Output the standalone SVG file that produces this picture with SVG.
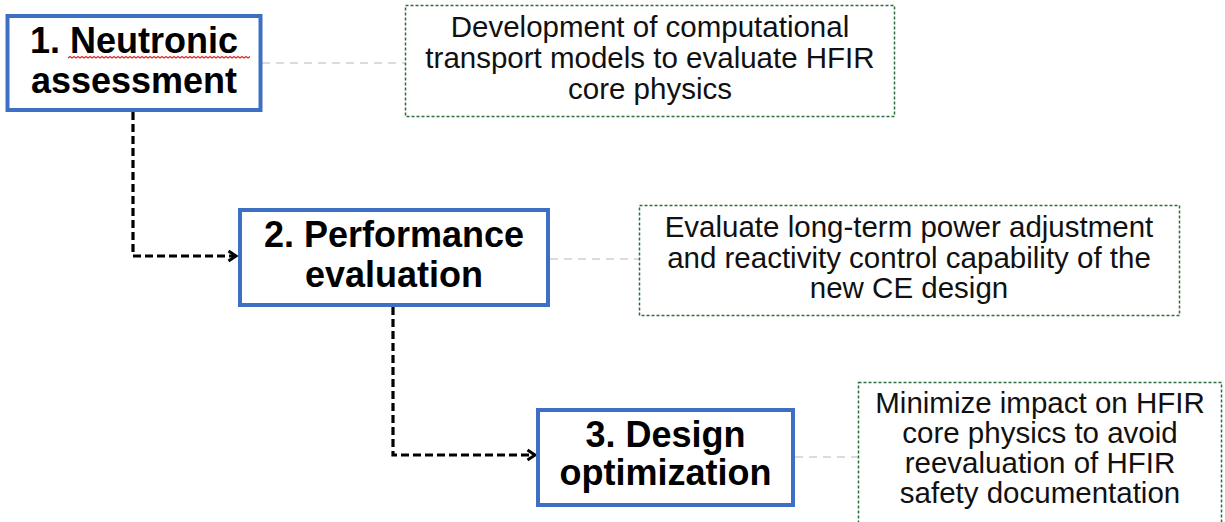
<svg xmlns="http://www.w3.org/2000/svg" width="1225" height="522" viewBox="0 0 1225 522">
  <defs>
    <style>
      .step { fill: #ffffff; stroke: #3d70c2; stroke-width: 4; }
      .step-text { font-family: "Liberation Sans", Arial, sans-serif; font-weight: bold; font-size: 36px; fill: #000000; text-anchor: middle; }
      .note { fill: #ffffff; stroke: #2a6e3a; stroke-width: 1.5; stroke-dasharray: 3 2; }
      .note-text { font-family: "Liberation Sans", Arial, sans-serif; font-size: 29.5px; fill: #111111; text-anchor: middle; }
      .flow { fill: none; stroke: #000000; stroke-width: 3.2; stroke-dasharray: 8 4; }
      .link { fill: none; stroke: #cfcfcf; stroke-width: 1.5; stroke-dasharray: 8 6; }
      .squiggle { fill: none; stroke: #e02828; stroke-width: 1.3; }
    </style>
    <marker id="chevron" markerWidth="14" markerHeight="14" refX="10" refY="7" orient="auto" markerUnits="userSpaceOnUse">
      <path d="M2.5,2 L10,7 L2.5,12" fill="none" stroke="#000000" stroke-width="3"/>
    </marker>
  </defs>

  <rect width="1225" height="522" fill="#ffffff"/>

  <!-- connectors -->
  <g id="connectors">
    <path class="link" d="M262,63 L405,63"/>
    <path class="link" d="M550,259 L639,259"/>
    <path class="link" d="M795,457 L858,457"/>
    <path class="flow" d="M133,112 L133,256 L236,256" marker-end="url(#chevron)"/>
    <path class="flow" d="M393,307 L393,455 L535,455" marker-end="url(#chevron)"/>
  </g>

  <!-- step 1 -->
  <g id="step1">
    <rect class="step" x="7.5" y="16" width="253" height="94"/>
    <text class="step-text" x="134" y="53">1. Neutronic</text>
    <text class="step-text" x="134" y="93">assessment</text>
    <path class="squiggle" d="M68,58 l2,-1.5 l2,1.5 l2,-1.5 l2,1.5 l2,-1.5 l2,1.5 l2,-1.5 l2,1.5 l2,-1.5 l2,1.5 l2,-1.5 l2,1.5 l2,-1.5 l2,1.5 l2,-1.5 l2,1.5 l2,-1.5 l2,1.5 l2,-1.5 l2,1.5 l2,-1.5 l2,1.5 l2,-1.5 l2,1.5 l2,-1.5 l2,1.5 l2,-1.5 l2,1.5 l2,-1.5 l2,1.5 l2,-1.5 l2,1.5 l2,-1.5 l2,1.5 l2,-1.5 l2,1.5 l2,-1.5 l2,1.5 l2,-1.5 l2,1.5 l2,-1.5 l2,1.5 l2,-1.5 l2,1.5 l2,-1.5 l2,1.5 l2,-1.5 l2,1.5 l2,-1.5 l2,1.5 l2,-1.5 l2,1.5 l2,-1.5 l2,1.5 l2,-1.5 l2,1.5 l2,-1.5 l2,1.5 l2,-1.5 l2,1.5 l2,-1.5 l2,1.5 l2,-1.5 l2,1.5 l2,-1.5 l2,1.5 l2,-1.5 l2,1.5 l2,-1.5 l2,1.5 l2,-1.5 l2,1.5 l2,-1.5 l2,1.5 l2,-1.5 l2,1.5 l2,-1.5 l2,1.5 l2,-1.5 l2,1.5 l2,-1.5 l2,1.5 l2,-1.5 l2,1.5 l2,-1.5 l2,1.5 l2,-1.5 l2,1.5 l2,-1.5 l2,1.5 l2,-1.5"/>
  </g>

  <!-- step 2 -->
  <g id="step2">
    <rect class="step" x="240" y="210" width="308" height="95"/>
    <text class="step-text" x="394" y="247">2. Performance</text>
    <text class="step-text" x="394" y="287">evaluation</text>
  </g>

  <!-- step 3 -->
  <g id="step3">
    <rect class="step" x="538" y="410" width="255" height="95"/>
    <text class="step-text" x="665.5" y="447">3. Design</text>
    <text class="step-text" x="665.5" y="485">optimization</text>
  </g>

  <!-- note 1 -->
  <g id="note1">
    <rect class="note" x="405.5" y="5.5" width="489" height="111"/>
    <text class="note-text" x="650" y="37">Development of computational</text>
    <text class="note-text" x="650" y="68">transport models to evaluate HFIR</text>
    <text class="note-text" x="650" y="99">core physics</text>
  </g>

  <!-- note 2 -->
  <g id="note2">
    <rect class="note" x="639.5" y="205.5" width="540" height="110"/>
    <text class="note-text" x="909" y="237">Evaluate long-term power adjustment</text>
    <text class="note-text" x="909" y="268">and reactivity control capability of the</text>
    <text class="note-text" x="909" y="298">new CE design</text>
  </g>

  <!-- note 3 -->
  <g id="note3">
    <rect class="note" x="858.5" y="382.5" width="363" height="150"/>
    <text class="note-text" x="1040" y="413">Minimize impact on HFIR</text>
    <text class="note-text" x="1040" y="443">core physics to avoid</text>
    <text class="note-text" x="1040" y="473">reevaluation of HFIR</text>
    <text class="note-text" x="1040" y="503">safety documentation</text>
  </g>
</svg>
